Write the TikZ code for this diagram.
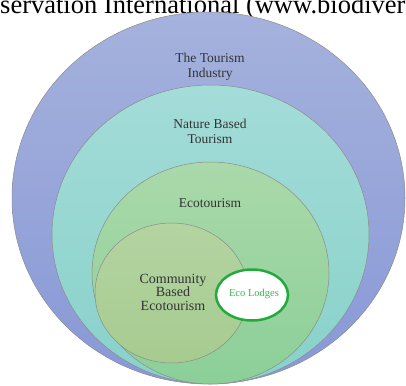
\documentclass[tikz,border=0pt]{standalone}
\usepackage{fontspec}
\setmainfont{Liberation Serif}
\begin{document}
\begin{tikzpicture}[x=1pt,y=-1pt,
  ring/.style={draw=black!45,line width=0.5pt},
  lbl/.style={text=black!80,font=\fontsize{13.5}{15}\selectfont,align=center}]
\useasboundingbox (0,0) rectangle (406,385);
\clip (0,0) rectangle (406,385);
\node[anchor=base west,inner sep=0,font=\fontsize{26.5}{28}\selectfont] (cap) at (0,13.5) {servation International (www.biodiver};
\draw[ring,top color={rgb,255:red,165;green,178;blue,221},bottom color={rgb,255:red,136;green,152;blue,214}] (208.5,198) ellipse [x radius=196.5,y radius=186];
\draw[ring,top color={rgb,255:red,164;green,220;blue,216},bottom color={rgb,255:red,136;green,209;blue,202}] (210.5,234.5) ellipse [x radius=158.5,y radius=149.5];
\draw[ring,top color={rgb,255:red,170;green,217;blue,170},bottom color={rgb,255:red,140;green,207;blue,152}] (210.5,273) ellipse [x radius=118.5,y radius=111];
\draw[ring,top color={rgb,255:red,180;green,212;blue,162},bottom color={rgb,255:red,166;green,203;blue,143}] (171.5,293) ellipse [x radius=76.5,y radius=70];
\draw[draw={rgb,255:red,34;green,170;blue,60},line width=2.5pt,fill=white] (252,295) ellipse [x radius=36,y radius=25.5];
\node[lbl] (t1) at (210,67) {The Tourism\\Industry};
\node[lbl] (t2) at (210,131) {Nature Based\\Tourism};
\node[lbl] (t3) at (210,203) {Ecotourism};
\node[lbl,font=\fontsize{14}{13.5}\selectfont] (t4) at (173,292) {Community\\Based\\Ecotourism};
\node[text={rgb,255:red,60;green,180;blue,80},font=\fontsize{10.5}{12}\selectfont] (t5) at (254,294) {Eco Lodges};
\end{tikzpicture}
\end{document}
